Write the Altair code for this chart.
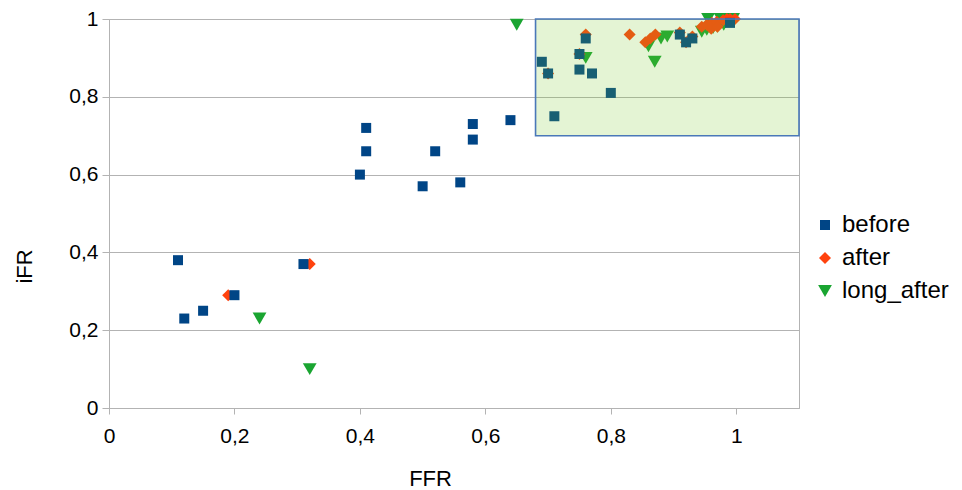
import altair as alt
import pandas as pd

# ---- data ----
series_names = ["before", "after", "long_after"]
series_colors = ["#004586", "#ff420e", "#1aa531"]
series_shapes = ["square", "diamond", "triangle-down"]
series_sizes = [100, 190, 190]

before_ffr = [0.11, 0.12, 0.15, 0.20, 0.31, 0.40, 0.41, 0.41, 0.50, 0.52, 0.56, 0.58, 0.58,
              0.64, 0.69, 0.70, 0.71, 0.75, 0.75, 0.76, 0.77, 0.80, 0.91, 0.92, 0.93, 0.99]
before_ifr = [0.38, 0.23, 0.25, 0.29, 0.37, 0.60, 0.72, 0.66, 0.57, 0.66, 0.58, 0.73, 0.69,
              0.74, 0.89, 0.86, 0.75, 0.87, 0.91, 0.95, 0.86, 0.81, 0.96, 0.94, 0.95, 0.99]

after_ffr = [0.19, 0.32, 0.70, 0.75, 0.76, 0.83, 0.855, 0.863, 0.871, 0.91, 0.92, 0.93,
             0.945, 0.953, 0.961, 0.969, 0.979, 0.99, 0.998, 0.96, 0.97, 0.985]
after_ifr = [0.29, 0.37, 0.86, 0.91, 0.96, 0.96, 0.94, 0.95, 0.96, 0.965, 0.94, 0.955,
             0.98, 0.985, 0.99, 0.993, 0.997, 1.0, 1.0, 0.975, 0.98, 1.0]

long_after_ffr = [0.24, 0.32, 0.65, 0.76, 0.86, 0.87, 0.88, 0.89, 0.945, 0.953, 0.963,
                  0.97, 0.98, 0.955, 0.975, 0.985, 0.995]
long_after_ifr = [0.23, 0.10, 0.985, 0.90, 0.93, 0.89, 0.95, 0.955, 0.967, 0.972, 0.977,
                  0.98, 0.985, 1.0, 1.0, 1.0, 1.0]

x_ticks = [0, 0.2, 0.4, 0.6, 0.8, 1.0]
y_ticks = [0, 0.2, 0.4, 0.6, 0.8, 1.0]
x_domain = [0, 1.1]
y_domain = [0, 1.0]

zone_ffr = [0.68, 1.1]
zone_ifr = [0.70, 1.0]

# ---- tables ----
rows = []
draw_order = [("long_after", long_after_ffr, long_after_ifr, 0),
              ("after", after_ffr, after_ifr, 1),
              ("before", before_ffr, before_ifr, 2)]
for name, xs, ys, rank in draw_order:
    for x, y in zip(xs, ys):
        rows.append({"FFR": x, "iFR": y, "series": name, "rank": rank})
df = pd.DataFrame(rows)

zone = pd.DataFrame({"x": [zone_ffr[0]], "x2": [zone_ffr[1]],
                     "y": [zone_ifr[0]], "y2": [zone_ifr[1]]})

label_expr = "replace(format(datum.value, '.1~f'), '.', ',')"

x_enc = alt.X("FFR:Q", title="FFR",
              scale=alt.Scale(domain=x_domain, nice=False, zero=False),
              axis=alt.Axis(values=x_ticks, labelExpr=label_expr, grid=False,
                            tickSize=6, labelPadding=11, labelFlush=False,
                            titleX=321, titleY=70, titleBaseline="middle",
                            titleAlign="center"))
y_enc = alt.Y("iFR:Q", title="iFR",
              scale=alt.Scale(domain=y_domain, nice=False, zero=False),
              axis=alt.Axis(values=y_ticks, labelExpr=label_expr, grid=True,
                            tickSize=7, labelPadding=4, labelFlush=False,
                            titleX=-85, titleY=247, titleBaseline="middle",
                            titleAlign="center", titleAngle=270))

legend_cfg = dict(title=None, orient="none", legendX=704, legendY=194,
                  labelFontSize=24, symbolSize=240, rowPadding=9,
                  labelOffset=5, padding=0, symbolStrokeWidth=0,
                  labelColor="#000000", labelFont="Liberation Sans")

points = alt.Chart(df).mark_point(filled=True, opacity=1, strokeWidth=0).encode(
    x=x_enc,
    y=y_enc,
    color=alt.Color("series:N",
                    scale=alt.Scale(domain=series_names, range=series_colors),
                    legend=alt.Legend(**legend_cfg)),
    shape=alt.Shape("series:N",
                    scale=alt.Scale(domain=series_names, range=series_shapes),
                    legend=alt.Legend(**legend_cfg)),
    size=alt.Size("series:N",
                  scale=alt.Scale(domain=series_names, range=series_sizes),
                  legend=None),
    order=alt.Order("rank:Q"),
)

box = alt.Chart(zone).mark_rect(fill="#78c828", fillOpacity=0.2, stroke="#4a78b8",
                                strokeWidth=1.6, strokeOpacity=1).encode(
    x="x:Q", x2="x2:Q", y="y:Q", y2="y2:Q")

chart = alt.layer(points, box).properties(
    width=690, height=389,
    padding={"left": 5, "top": 0, "right": 0, "bottom": 0},
).configure_view(
    stroke="#b3b3b3", strokeWidth=1
).configure_axis(
    domainColor="#b3b3b3", gridColor="#b3b3b3", tickColor="#b3b3b3",
    labelFont="Liberation Sans", labelFontSize=21, labelColor="#000000",
    titleFont="Liberation Sans", titleFontSize=22, titleFontWeight="normal",
    titleColor="#000000"
)

chart.save("out.html", embed_options={"renderer": "svg", "actions": False})
